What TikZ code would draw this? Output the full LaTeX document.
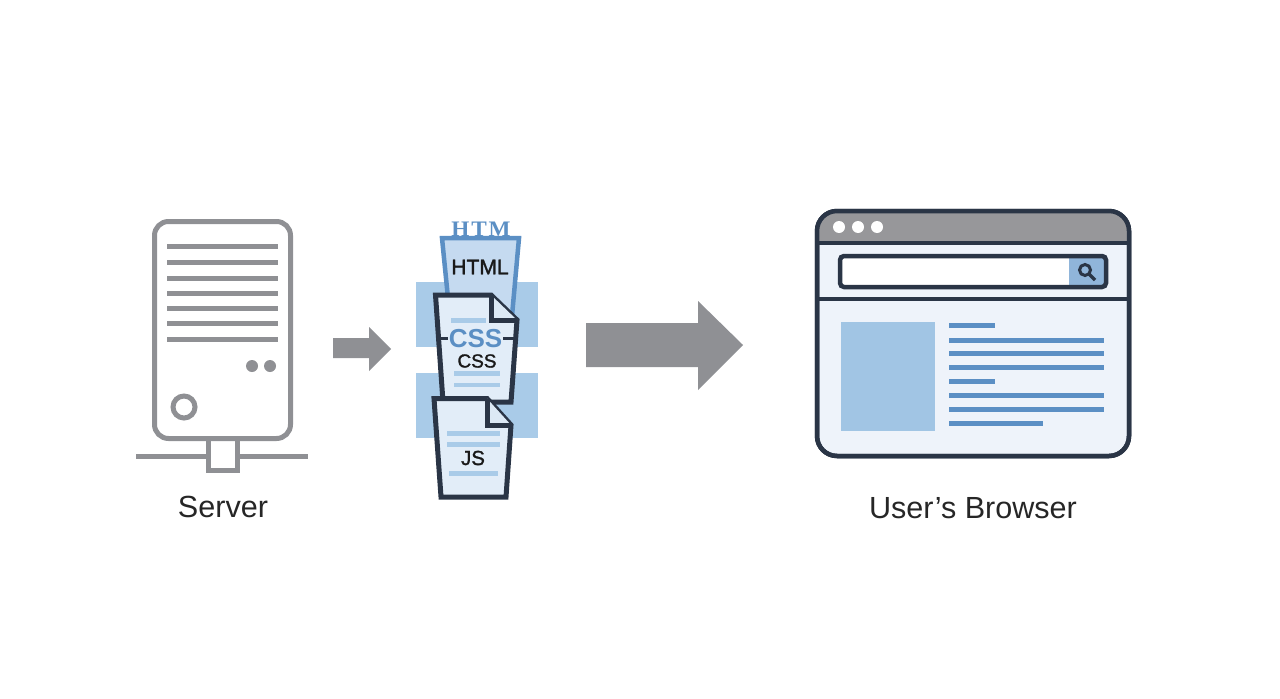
\documentclass[tikz,border=0pt]{standalone}
\usepackage{fontspec}
\setmainfont{Liberation Sans}
\newfontfamily\slabfont[LetterSpace=8]{Liberation Serif}
\newfontfamily\filefont[FakeBold=1.4]{Liberation Sans}
\definecolor{greyicon}{HTML}{8F9094}
\definecolor{greybar}{HTML}{97979A}
\definecolor{darkline}{HTML}{2A3546}
\definecolor{blueband}{HTML}{A9CBE8}
\definecolor{blueline}{HTML}{5B8FC4}
\definecolor{bluepage}{HTML}{E2EDF8}
\definecolor{bluefold}{HTML}{DCE9F5}
\definecolor{bluesheet}{HTML}{C5DAF0}
\definecolor{windowfill}{HTML}{EEF3FA}
\tikzset{
  iconline/.style={line width=0.05cm,greyicon},
  pageline/.style={line width=0.05cm,darkline,line join=miter},
  winline/.style={line width=0.045cm,darkline},
  textbar/.style={line width=0.05cm,blueband},
  contentbar/.style={line width=0.05cm,blueline},
  biglabel/.style={font=\fontsize{8.7}{10}\selectfont,text=black!85},
  filelabel/.style={font=\filefont\fontsize{6}{7}\selectfont,text=black!90,inner sep=0pt},
}
\begin{document}
\begin{tikzpicture}
\useasboundingbox (0,0) rectangle (12.8,6.98);

% server
\draw[iconline,rounded corners=0.14cm] (1.545,2.595) rectangle (2.905,4.765);
\draw[iconline] (1.67,4.52) to (2.78,4.52);
\draw[iconline] (1.67,4.36) to (2.78,4.36);
\draw[iconline] (1.67,4.20) to (2.78,4.20);
\draw[iconline] (1.67,4.05) to (2.78,4.05);
\draw[iconline] (1.67,3.90) to (2.78,3.90);
\draw[iconline] (1.67,3.75) to (2.78,3.75);
\draw[iconline] (1.67,3.59) to (2.78,3.59);
\fill[greyicon] (2.52,3.32) circle (0.06);
\fill[greyicon] (2.70,3.32) circle (0.06);
\draw[iconline] (1.84,2.91) circle (0.11);
\draw[iconline] (2.085,2.595) -- (2.085,2.275) -- (2.375,2.275) -- (2.375,2.595);
\draw[iconline] (1.36,2.42) to (2.085,2.42);
\draw[iconline] (2.375,2.42) to (3.08,2.42);
\node[biglabel] (serverlabel) at (2.23,1.91) {Server};

% arrows
\fill[greyicon] (3.33,3.60) -- (3.69,3.60) -- (3.69,3.71) -- (3.91,3.49) -- (3.69,3.27) -- (3.69,3.40) -- (3.33,3.40) -- cycle;
\fill[greyicon] (5.86,3.75) -- (6.98,3.75) -- (6.98,3.97) -- (7.43,3.53) -- (6.98,3.08) -- (6.98,3.31) -- (5.86,3.31) -- cycle;

% bands behind the files
\fill[blueband] (4.16,3.51) rectangle (5.38,4.16);
\fill[blueband] (4.16,2.60) rectangle (5.38,3.25);

% html
\node[inner sep=0pt,text=blueline,xscale=1.05,font=\slabfont\bfseries\fontsize{6.3}{7}\selectfont] (htmtop) at (4.81,4.69) {HTM};
\draw[line width=0.045cm,blueline,fill=bluesheet] (4.42,4.60) -- (5.19,4.60) -- (5.10,3.60) -- (4.52,3.60) -- cycle;
\node[filelabel] (htmllabel) at (4.80,4.31) {HTML};

% css
\draw[pageline,fill=bluepage] (4.355,4.03) -- (4.91,4.03) -- (5.17,3.78) -- (5.11,2.96) -- (4.43,2.96) -- cycle;
\fill[bluefold] (4.91,4.03) -- (4.91,3.78) -- (5.17,3.78) -- cycle;
\draw[pageline] (4.91,4.03) -- (4.91,3.78) -- (5.17,3.78);
\draw[textbar] (4.51,3.78) to (4.86,3.78);
\draw[line width=0.03cm,darkline] (4.38,3.60) to (4.48,3.60);
\draw[line width=0.03cm,darkline] (5.03,3.60) to (5.14,3.60);
\node[inner sep=0pt,text=blueline,font=\bfseries\fontsize{7.4}{8}\selectfont] (cssbig) at (4.755,3.59) {CSS};
\node[filelabel,font=\filefont\fontsize{5.4}{6}\selectfont] (csslabel) at (4.77,3.37) {CSS};
\draw[textbar] (4.54,3.25) to (5.00,3.25);
\draw[textbar,line width=0.04cm] (4.54,3.13) to (5.00,3.13);

% js
\draw[pageline,fill=bluepage] (4.34,2.995) -- (4.87,2.995) -- (5.11,2.73) -- (5.06,2.01) -- (4.41,2.01) -- cycle;
\fill[bluefold] (4.87,2.995) -- (4.87,2.73) -- (5.11,2.73) -- cycle;
\draw[pageline] (4.87,2.995) -- (4.87,2.73) -- (5.11,2.73);
\draw[textbar] (4.47,2.65) to (5.00,2.65);
\draw[textbar] (4.47,2.54) to (5.00,2.54);
\node[filelabel,font=\filefont\fontsize{5.8}{6}\selectfont] (jslabel) at (4.73,2.40) {JS};
\draw[textbar] (4.49,2.25) to (4.98,2.25);

% browser window
\draw[winline,fill=windowfill,rounded corners=0.2cm] (8.17,2.42) rectangle (11.29,4.87);
\fill[greybar] (8.17,4.55) -- (8.17,4.67) arc[start angle=180,end angle=90,radius=0.2] -- (11.09,4.87) arc[start angle=90,end angle=0,radius=0.2] -- (11.29,4.55) -- cycle;
\draw[winline,rounded corners=0.2cm] (8.17,2.42) rectangle (11.29,4.87);
\draw[winline] (8.17,4.55) to (11.29,4.55);
\draw[winline] (8.17,3.99) to (11.29,3.99);
\fill[white] (8.39,4.71) circle (0.06);
\fill[white] (8.58,4.71) circle (0.06);
\fill[white] (8.77,4.71) circle (0.06);

% search box
\fill[white,rounded corners=0.04cm] (8.40,4.11) rectangle (11.06,4.42);
\fill[bluesheet!50!blueline] (10.69,4.11) rectangle (11.06,4.42);
\draw[winline,rounded corners=0.04cm] (8.40,4.11) rectangle (11.06,4.42);
\draw[winline,line width=0.03cm] (10.85,4.28) circle (0.055);
\draw[winline,line width=0.035cm] (10.89,4.24) to (10.95,4.18);

% page content
\fill[blueband!90!blueline] (8.41,2.67) rectangle (9.35,3.76);
\draw[contentbar] (9.49,3.73) to (9.95,3.73);
\draw[contentbar] (9.49,3.58) to (11.04,3.58);
\draw[contentbar] (9.49,3.45) to (11.04,3.45);
\draw[contentbar] (9.49,3.31) to (11.04,3.31);
\draw[contentbar] (9.49,3.17) to (9.95,3.17);
\draw[contentbar] (9.49,3.03) to (11.04,3.03);
\draw[contentbar] (9.49,2.89) to (11.04,2.89);
\draw[contentbar] (9.49,2.75) to (10.43,2.75);
\node[biglabel] (browserlabel) at (9.73,1.90) {User’s Browser};
\end{tikzpicture}
\end{document}
